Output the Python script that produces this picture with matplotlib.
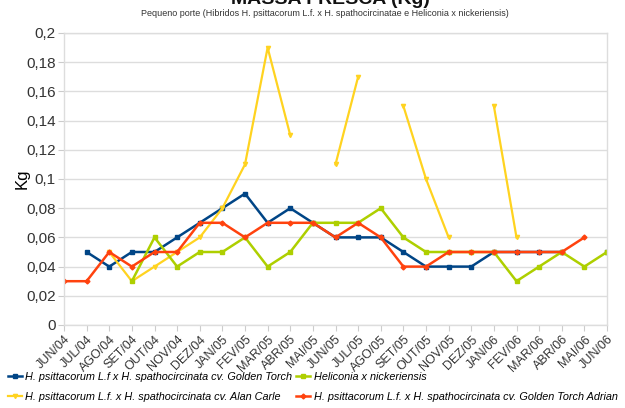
import numpy as np
import matplotlib
matplotlib.use("Agg")
import matplotlib.pyplot as plt

plt.rcParams['font.family'] = ['Liberation Sans', 'DejaVu Sans']

months = ["JUN/04", "JUL/04", "AGO/04", "SET/04", "OUT/04", "NOV/04", "DEZ/04",
          "JAN/05", "FEV/05", "MAR/05", "ABR/05", "MAI/05", "JUN/05", "JUL/05",
          "AGO/05", "SET/05", "OUT/05", "NOV/05", "DEZ/05", "JAN/06", "FEV/06",
          "MAR/06", "ABR/06", "MAI/06", "JUN/06"]
nan = np.nan
golden_torch = [nan, 0.05, 0.04, 0.05, 0.05, 0.06, 0.07, 0.08, 0.09, 0.07, 0.08, 0.07,
                0.06, 0.06, 0.06, 0.05, 0.04, 0.04, 0.04, 0.05, 0.05, 0.05, 0.05, nan, 0.05]
nickeriensis = [nan, nan, nan, 0.03, 0.06, 0.04, 0.05, 0.05, 0.06, 0.04, 0.05, 0.07,
                0.07, 0.07, 0.08, 0.06, 0.05, 0.05, 0.05, 0.05, 0.03, 0.04, 0.05, 0.04, 0.05]
alan_carle = [nan, nan, 0.05, 0.03, 0.04, 0.05, 0.06, 0.08, 0.11, 0.19, 0.13, nan,
              0.11, 0.17, nan, 0.15, 0.10, 0.06, nan, 0.15, 0.06, nan, nan, nan, nan]
adrian = [0.03, 0.03, 0.05, 0.04, 0.05, 0.05, 0.07, 0.07, 0.06, 0.07, 0.07, 0.07,
          0.06, 0.07, 0.06, 0.04, 0.04, 0.05, 0.05, 0.05, 0.05, 0.05, 0.05, 0.06, nan]

labels = ["H. psittacorum L.f x H. spathocircinata cv. Golden Torch",
          "H. psittacorum L.f. x H. spathocircinata cv. Alan Carle",
          "Heliconia x nickeriensis",
          "H. psittacorum L.f. x H. spathocircinata cv. Golden Torch Adrian"]
yticks = [0, 0.02, 0.04, 0.06, 0.08, 0.1, 0.12, 0.14, 0.16, 0.18, 0.2]
ytick_labels = ["0", "0,02", "0,04", "0,06", "0,08", "0,1", "0,12", "0,14", "0,16", "0,18", "0,2"]

fig = plt.figure(figsize=(6.25, 4.08), dpi=100)
ax = fig.add_axes([64/625, 1-325/408, (607-64)/625, (325-33)/408])

x = np.arange(len(months))
h1, = ax.plot(x, golden_torch, color="#004586", lw=1.8, marker="s", ms=3.2, label=labels[0])
h2, = ax.plot(x, alan_carle, color="#ffd320", lw=1.6, marker="v", ms=3, label=labels[1])
h3, = ax.plot(x, nickeriensis, color="#aecf00", lw=1.8, marker="s", ms=2.8, label=labels[2])
h4, = ax.plot(x, adrian, color="#ff420e", lw=1.8, marker="D", ms=2.5, label=labels[3])

ax.set_xlim(0, len(months)-1)
ax.set_ylim(0, 0.2)
ax.set_yticks(yticks)
ax.set_yticklabels(ytick_labels, fontsize=11, color="#333333")
ax.set_xticks(x)
ax.set_xticklabels(months, rotation=45, ha="right", va="top", rotation_mode="anchor",
                   fontsize=9, color="#333333")
ax.tick_params(axis="x", length=4, color="#cccccc", pad=2)
ax.tick_params(axis="y", length=4, color="#cccccc", pad=2)
ax.grid(axis="y", color="#dddddd", lw=1)
ax.set_axisbelow(True)
for s in ax.spines.values():
    s.set_color("#dddddd")
    s.set_linewidth(1)
ax.set_ylabel("Kg", fontsize=12)
ax.yaxis.set_label_coords((30 - 64) / (607 - 64), 0.5)

fig.text(330/625, 1.0 + 1/408, "MASSA FRESCA (Kg)", ha="center", va="center",
         fontsize=14, fontweight="bold", color="#111111")
fig.text(325/625, 1 - 13/408, "Pequeno porte (Hibridos H. psittacorum L.f. x H. spathocircinatae e Heliconia x nickeriensis)",
         ha="center", va="center", fontsize=6.5, color="#333333")

fig.legend(handles=[h1, h2, h3, h4], loc="center", bbox_to_anchor=(0.5, 1 - 387/408),
           ncol=2, frameon=False, prop={"style": "italic", "size": 7.8},
           handlelength=1.3, handletextpad=0.3, columnspacing=0.4, labelspacing=0.9,
           borderaxespad=0, borderpad=0)

fig.savefig("out.png", dpi=100)
